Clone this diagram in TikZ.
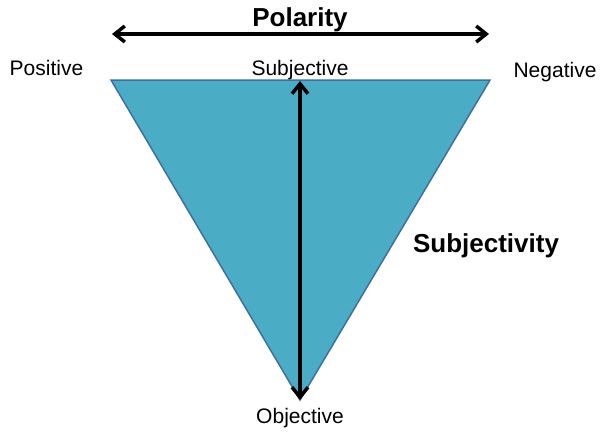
\documentclass[tikz,border=0pt]{standalone}
\usepackage{fontspec}
\setmainfont{Liberation Sans}
\usetikzlibrary{arrows.meta}
\definecolor{triblue}{HTML}{4BACC6}
\definecolor{triedge}{HTML}{3F6F9F}
\newcommand{\lw}{3.5pt}

\begin{document}
\begin{tikzpicture}[x=1pt, y=-1pt,
    lbl/.style={anchor=base, inner sep=0pt, font=\fontsize{21}{25}\selectfont},
    title/.style={anchor=base, inner sep=0pt, font=\fontsize{26}{30}\selectfont\bfseries},
    axis/.style={line width=\lw, {Straight Barb[length=10pt,width=16pt]}-{Straight Barb[length=10pt,width=16pt]}}]
    \useasboundingbox (0,0) rectangle (601,431);

    % Triangle
    \coordinate (top-left) at (111,80);
    \coordinate (top-right) at (490,80);
    \coordinate (bottom) at (300,400);
    \filldraw[fill=triblue, draw=triedge, line width=1.5pt, line join=miter] (top-left) -- (top-right) -- (bottom) -- cycle;

    % Polarity axis
    \coordinate (pol-left) at (112,34);
    \coordinate (pol-right) at (489,34);
    \draw[axis] (pol-left) -- (pol-right);
    \node[title] (polarity) at (300,26) {Polarity};

    % Subjectivity axis
    \coordinate (subj-top) at (300,81);
    \draw[axis] (subj-top) -- (bottom);
    \node[title] (subjectivity) at (486,252) {Subjectivity};

    % Labels
    \node[lbl] (positive) at (46.5,75) {Positive};
    \node[lbl] (negative) at (555,77) {Negative};
    \node[lbl] (subjective) at (300,75) {Subjective};
    \node[lbl] (objective) at (300,423) {Objective};

\end{tikzpicture}
\end{document}
